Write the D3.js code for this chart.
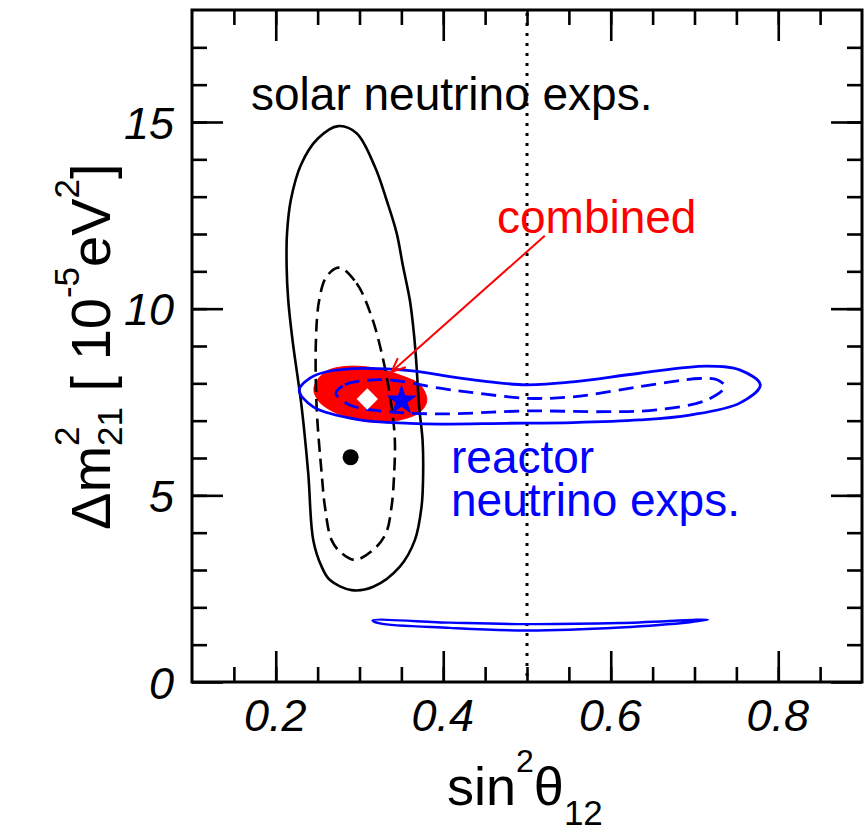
<!DOCTYPE html>
<html><head><meta charset="utf-8">
<script src="https://cdn.jsdelivr.net/npm/d3@7"></script>
<style>
html,body{margin:0;padding:0;background:#fff;}
text{font-family:"Liberation Sans",Arial,sans-serif;}
</style></head>
<body>
<svg id="c" width="868" height="833"></svg>
<script>
// ---- data ----
const xDomain = [0.1, 0.9];
const yDomain = [0, 18];
const xMajorTicks = [0.2, 0.4, 0.6, 0.8];
const xTickLabels = ["0.2", "0.4", "0.6", "0.8"];
const xMinorTicks = [0.15,0.2,0.25,0.3,0.35,0.4,0.45,0.5,0.55,0.6,0.65,0.7,0.75,0.8,0.85];
const yMajorTicks = [0, 5, 10, 15];
const yTickLabels = ["0", "5", "10", "15"];
const yMinorTicks = [1,2,3,4,5,6,7,8,9,10,11,12,13,14,15,16,17];
const maximalMixing = 0.5;

const solarOuter = [[0.2746,14.89],[0.2965,14.70],[0.3184,13.80],[0.3323,12.91],[0.3443,12.03],[0.3521,11.12],[0.3601,10.23],[0.3649,9.35],[0.3680,8.50],[0.3712,7.37],[0.3753,6.48],[0.3760,5.60],[0.3741,4.70],[0.3661,3.80],[0.3482,3.09],[0.3164,2.55],[0.2906,2.46],[0.2647,2.73],[0.2548,3.09],[0.2448,3.80],[0.2388,5.59],[0.2309,7.37],[0.2200,9.16],[0.2149,10.23],[0.2130,11.12],[0.2135,12.03],[0.2180,12.91],[0.2300,13.85],[0.2500,14.55]];
const solarInner = [[0.2758,11.10],[0.2965,10.68],[0.3144,9.79],[0.3283,8.63],[0.3383,7.37],[0.3422,6.48],[0.3414,5.59],[0.3383,4.70],[0.3315,3.98],[0.3164,3.54],[0.2945,3.27],[0.2786,3.45],[0.2667,3.80],[0.2587,4.70],[0.2548,5.59],[0.2488,7.37],[0.2480,9.16],[0.2519,10.23],[0.2607,10.86]];
const combined = [[0.2456,7.88],[0.2587,8.30],[0.2826,8.45],[0.3184,8.41],[0.3482,8.22],[0.3721,7.96],[0.3804,7.55],[0.3721,7.23],[0.3482,7.02],[0.3184,6.96],[0.2885,7.07],[0.2647,7.29],[0.2504,7.55]];
const reactorOuter = [[0.2280,7.82],[0.2408,8.14],[0.2607,8.31],[0.3005,8.40],[0.3601,8.34],[0.4079,8.18],[0.4556,8.04],[0.4994,7.96],[0.5550,8.04],[0.6346,8.27],[0.7142,8.46],[0.7539,8.36],[0.7786,7.96],[0.7539,7.47],[0.6943,7.15],[0.6346,7.02],[0.5550,6.95],[0.4755,6.93],[0.3959,6.91],[0.3601,6.93],[0.3005,7.02],[0.2448,7.37]];
const reactorInner = [[0.2718,7.73],[0.2826,7.96],[0.3044,8.07],[0.3363,8.09],[0.3959,7.87],[0.4397,7.74],[0.4994,7.60],[0.5550,7.64],[0.6346,7.91],[0.7062,8.13],[0.7277,8.09],[0.7361,7.91],[0.7142,7.55],[0.6546,7.29],[0.5949,7.24],[0.4994,7.26],[0.3959,7.18],[0.3243,7.26],[0.2885,7.42]];
const reactorLow = [[0.3156,1.65],[0.4079,1.59],[0.4998,1.55],[0.6107,1.58],[0.7161,1.67],[0.6943,1.60],[0.6107,1.46],[0.4998,1.38],[0.4079,1.45],[0.3243,1.57]];
const solarBest = [0.2894, 6.02];
const combinedBest = [0.3093, 7.58];
const reactorBest = [0.3502, 7.54];
const arrowFrom = [0.5212, 11.95];
const arrowTo = [0.3383, 8.31];

// ---- drawing ----
const svg = d3.select("#c");
const x = d3.scaleLinear(xDomain, [192, 862]);
const y = d3.scaleLinear(yDomain, [682, 10]);
const FONT = '"Liberation Sans",Arial,sans-serif';

const line = d3.line().x(d => x(d[0])).y(d => y(d[1])).curve(d3.curveCatmullRomClosed.alpha(0.5));

// dotted maximal mixing line
svg.append("line").attr("x1", x(maximalMixing)).attr("x2", x(maximalMixing))
  .attr("y1", y(yDomain[1]) + 3).attr("y2", y(0))
  .attr("stroke", "#000").attr("stroke-width", 3).attr("stroke-dasharray", "3,7");

// combined fill
svg.append("path").attr("d", line(combined)).attr("fill", "#ff0000").attr("stroke", "#ff0000").attr("stroke-width", 1);

// solar contours
svg.append("path").attr("d", line(solarOuter)).attr("fill", "none").attr("stroke", "#000").attr("stroke-width", 2.6);
svg.append("path").attr("d", line(solarInner)).attr("fill", "none").attr("stroke", "#000").attr("stroke-width", 2.6).attr("stroke-dasharray", "13,7");

// reactor contours
svg.append("path").attr("d", line(reactorOuter)).attr("fill", "none").attr("stroke", "#0000ff").attr("stroke-width", 2.8);
svg.append("path").attr("d", line(reactorInner)).attr("fill", "none").attr("stroke", "#0000ff").attr("stroke-width", 2.8).attr("stroke-dasharray", "15,8");
svg.append("path").attr("d", line(reactorLow)).attr("fill", "none").attr("stroke", "#0000ff").attr("stroke-width", 2.4);

// markers
svg.append("circle").attr("cx", x(solarBest[0])).attr("cy", y(solarBest[1])).attr("r", 8).attr("fill", "#000");
svg.append("path").attr("d", d3.symbol(d3.symbolDiamond2 || d3.symbolDiamond, 290)())
  .attr("transform", `translate(${x(combinedBest[0])},${y(combinedBest[1])})`)
  .attr("fill", "#fff");
svg.append("path").attr("d", d3.symbol(d3.symbolStar, 300)())
  .attr("transform", `translate(${x(reactorBest[0])},${y(reactorBest[1])})`)
  .attr("fill", "#0000ff");

// arrow
{
  const x1 = x(arrowFrom[0]), y1 = y(arrowFrom[1]), x2 = x(arrowTo[0]), y2 = y(arrowTo[1]);
  svg.append("line").attr("x1", x1).attr("y1", y1).attr("x2", x2).attr("y2", y2)
    .attr("stroke", "#ff0000").attr("stroke-width", 2);
  const a = Math.atan2(y1 - y2, x1 - x2), L = 15, h = 0.42;
  const p1 = [x2 + L * Math.cos(a + h), y2 + L * Math.sin(a + h)];
  const p2 = [x2 + L * Math.cos(a - h), y2 + L * Math.sin(a - h)];
  svg.append("path").attr("d", `M${p1}L${x2},${y2}L${p2}`).attr("fill", "none")
    .attr("stroke", "#ff0000").attr("stroke-width", 2);
}

// axes (inward ticks on all four sides)
function styleAxis(g) { g.select(".domain").remove(); g.selectAll("line").attr("stroke", "#000").attr("stroke-width", 2.6); }
svg.append("g").attr("transform", "translate(0,682)").call(d3.axisBottom(x).tickValues(xMinorTicks).tickSize(-15).tickFormat("")).call(styleAxis);
svg.append("g").attr("transform", "translate(0,10)").call(d3.axisTop(x).tickValues(xMinorTicks).tickSize(-15).tickFormat("")).call(styleAxis);
svg.append("g").attr("transform", "translate(192,0)").call(d3.axisLeft(y).tickValues(yMinorTicks).tickSize(-15).tickFormat("")).call(styleAxis);
svg.append("g").attr("transform", "translate(862,0)").call(d3.axisRight(y).tickValues(yMinorTicks).tickSize(-15).tickFormat("")).call(styleAxis);

const xb = svg.append("g").attr("transform", "translate(0,682)")
  .call(d3.axisBottom(x).tickValues(xMajorTicks).tickSize(-31).tickPadding(17).tickFormat((d, i) => xTickLabels[i])).call(styleAxis);
xb.selectAll("text").attr("font-family", FONT).attr("font-size", 45).attr("font-style", "italic").attr("fill", "#000").attr("dx", -1);
svg.append("g").attr("transform", "translate(0,10)").call(d3.axisTop(x).tickValues(xMajorTicks).tickSize(-31).tickFormat("")).call(styleAxis);
const yl = svg.append("g").attr("transform", "translate(192,0)")
  .call(d3.axisLeft(y).tickValues(yMajorTicks).tickSize(-31).tickPadding(18).tickFormat((d, i) => yTickLabels[i])).call(styleAxis);
yl.selectAll("text").attr("font-family", FONT).attr("font-size", 45).attr("font-style", "italic").attr("fill", "#000").attr("dy", "0.36em");
svg.append("g").attr("transform", "translate(862,0)").call(d3.axisRight(y).tickValues(yMajorTicks).tickSize(-31).tickFormat("")).call(styleAxis);

// frame
svg.append("rect").attr("x", 192).attr("y", 10).attr("width", 670).attr("height", 672)
  .attr("fill", "none").attr("stroke", "#000").attr("stroke-width", 3);

// rich text helper: pieces laid out left to right measuring widths
function rich(g, pieces, color) {
  let cx = 0, stackStart = 0, stackW = 0;
  pieces.forEach(p => {
    const t = g.append("text").attr("font-family", FONT).attr("font-size", p.size)
      .attr("fill", color).attr("y", p.dy || 0).text(p.t);
    if (p.stack) { t.attr("x", stackStart); const w = t.node().getComputedTextLength(); stackW = Math.max(stackW, w); cx = stackStart + stackW; }
    else { t.attr("x", cx); stackStart = cx; const w = t.node().getComputedTextLength(); stackW = w; cx += w; }
  });
}

// x title
rich(svg.append("g").attr("transform", "translate(447,805)"), [
  {t: "sin", size: 54},
  {t: "2", size: 32, dy: -33},
  {t: "θ", size: 54},
  {t: "12", size: 35, dy: 20}
], "#000");

// y title
rich(svg.append("g").attr("transform", "translate(110,530) rotate(-90)"), [
  {t: "Δm", size: 56},
  {t: "2", size: 35, dy: -31},
  {t: "21", size: 35, dy: 12, stack: true},
  {t: "\u00a0[\u00a010", size: 56},
  {t: "-5", size: 35, dy: -31},
  {t: "eV", size: 56},
  {t: "2", size: 35, dy: -31},
  {t: "]", size: 56}
], "#000");

// annotations
svg.append("text").attr("x", 251).attr("y", 110).attr("font-family", FONT).attr("font-size", 46).attr("fill", "#000").text("solar neutrino exps.");
svg.append("text").attr("x", 497).attr("y", 233).attr("font-family", FONT).attr("font-size", 46).attr("fill", "#ff0000").text("combined");
const rt = svg.append("text").attr("font-family", FONT).attr("font-size", 46).attr("fill", "#0000ff");
rt.append("tspan").attr("x", 451).attr("y", 473).text("reactor");
rt.append("tspan").attr("x", 451).attr("y", 516).text("neutrino exps.");
</script>
</body></html>
